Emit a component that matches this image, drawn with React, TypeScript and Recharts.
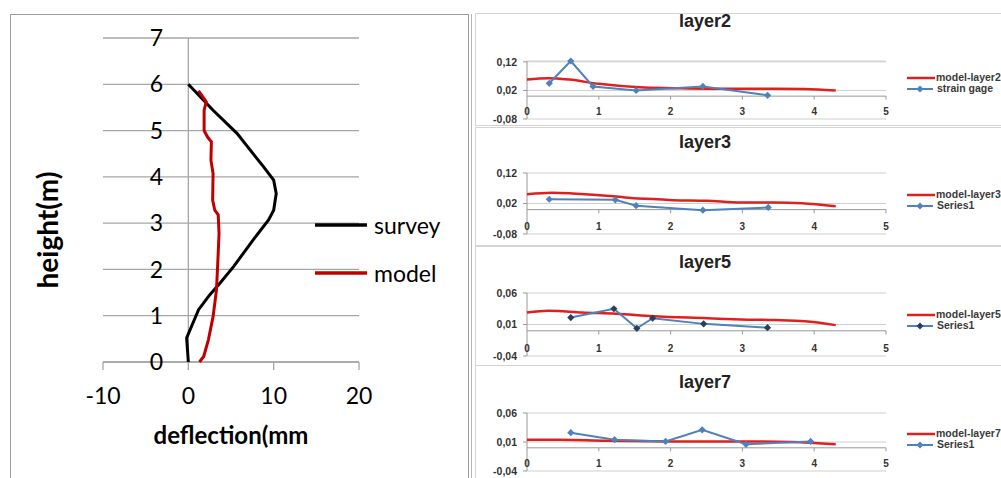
import React from 'react';
import { ScatterChart, Scatter, XAxis, YAxis, CartesianGrid, ReferenceLine, Legend } from 'recharts';

// ---------- Left chart data: deflection profile ----------
const surveyDeflection = [0, -0.2, 1.2, 2.5, 3.7, 5.3, 7.6, 9.4, 10.0, 10.3, 10.0, 8.8, 5.7, 2.9, 0];
const surveyHeight = [0, 0.52, 1.13, 1.45, 1.7, 2.06, 2.64, 3.07, 3.28, 3.64, 3.93, 4.22, 4.94, 5.44, 6.0];
const modelDeflection = [1.3, 1.8, 2.35, 2.9, 3.3, 3.5, 3.6, 3.5, 3.1, 2.85, 2.9, 2.65, 2.7, 2.25, 1.85, 1.85, 2.1, 1.2];
const modelHeight = [0, 0.12, 0.48, 0.98, 1.56, 2.35, 2.78, 3.18, 3.28, 3.5, 4.07, 4.36, 4.76, 4.86, 5.0, 5.44, 5.62, 5.86];
const heightTicks = [0, 1, 2, 3, 4, 5, 6, 7];
const deflectionTicks = [-10, 0, 10, 20];
const profileSeriesNames = ['survey', 'model'];

// ---------- Right charts data: layers ----------
const layerTitles = ['layer2', 'layer3', 'layer5', 'layer7'];
const modelSeriesNames = ['model-layer2', 'model-layer3', 'model-layer5', 'model-layer7'];
const gaugeSeriesNames = ['strain gage', 'Series1', 'Series1', 'Series1'];
const layerXTicks = [0, 1, 2, 3, 4, 5];
const layerYTicksWide = [-0.08, 0.02, 0.12];
const layerYTicksNarrow = [-0.04, 0.01, 0.06];

const layer2ModelX = [0, 0.3, 0.59, 1.0, 1.57, 2.04, 2.5, 2.98, 3.45, 3.87, 4.3];
const layer2ModelY = [0.058, 0.063, 0.058, 0.043, 0.031, 0.028, 0.026, 0.026, 0.026, 0.025, 0.02];
const layer2GaugeX = [0.31, 0.61, 0.92, 1.52, 2.45, 3.35];
const layer2GaugeY = [0.045, 0.123, 0.034, 0.02, 0.034, 0.003];

const layer3ModelX = [0, 0.35, 0.63, 1.2, 1.48, 1.76, 2.04, 2.5, 2.98, 3.45, 3.83, 4.3];
const layer3ModelY = [0.05, 0.055, 0.053, 0.044, 0.037, 0.035, 0.031, 0.029, 0.023, 0.023, 0.021, 0.011];
const layer3GaugeX = [0.31, 1.23, 1.52, 2.45, 3.36];
const layer3GaugeY = [0.034, 0.032, 0.013, -0.002, 0.007];

const layer5ModelX = [0, 0.3, 0.77, 1.24, 1.76, 2.51, 2.98, 3.45, 3.87, 4.3];
const layer5ModelY = [0.029, 0.032, 0.029, 0.027, 0.023, 0.02, 0.018, 0.017, 0.015, 0.009];
const layer5GaugeX = [0.61, 1.21, 1.53, 1.75, 2.46, 3.35];
const layer5GaugeY = [0.021, 0.035, 0.004, 0.02, 0.011, 0.005];

const layer7ModelX = [0, 0.45, 1.1, 2.04, 2.98, 3.69, 4.3];
const layer7ModelY = [0.014, 0.014, 0.012, 0.011, 0.011, 0.01, 0.006];
const layer7GaugeX = [0.61, 1.22, 1.93, 2.44, 3.05, 3.95];
const layer7GaugeY = [0.026, 0.014, 0.011, 0.031, 0.006, 0.011];

const zip = (xs: number[], ys: number[]) => xs.map((x, i) => ({ x, y: ys[i] }));

const RED = '#e0201e';
const BLUE = '#4f81bd';
const GRID = '#a6a6a6';
const LEFT_FONT = 'Lato, "Open Sans", sans-serif';
const SMALL_FONT = '"Liberation Sans", Arial, sans-serif';

const NoShape = () => <g />;

const Diamond = (color: string) => (props: any) => {
  const { cx, cy } = props;
  if (cx == null || cy == null) return <g />;
  const r = 3.6;
  return <path d={`M${cx},${cy - r}L${cx + r},${cy}L${cx},${cy + r}L${cx - r},${cy}Z`} fill={color} />;
};

function ProfileLegend() {
  const items = [
    { name: profileSeriesNames[0], color: '#000' },
    { name: profileSeriesNames[1], color: '#c00000' },
  ];
  return (
    <div style={{ fontFamily: LEFT_FONT, fontSize: 23, color: '#000' }}>
      {items.map((it) => (
        <div key={it.name} style={{ display: 'flex', alignItems: 'center', height: 48 }}>
          <svg width={54} height={10} style={{ marginRight: 6 }}>
            <line x1={1} y1={5} x2={53} y2={5} stroke={it.color} strokeWidth={3.5} />
          </svg>
          <span>{it.name}</span>
        </div>
      ))}
    </div>
  );
}

function ProfileChart() {
  const survey = zip(surveyDeflection, surveyHeight);
  const model = zip(modelDeflection, modelHeight);
  const yAxisW = 40;
  return (
    <div style={{ position: 'absolute', left: 10, top: 14, width: 457, height: 470, border: '1px solid #9c9c9c', borderBottom: 'none', background: '#fff' }}>
      <ScatterChart width={457} height={470} margin={{ top: 23, right: 109, bottom: 73, left: 92 - yAxisW }}>
        <CartesianGrid vertical={false} stroke={GRID} strokeWidth={1.3} />
        <XAxis
          type="number"
          dataKey="x"
          domain={[-10, 20]}
          ticks={deflectionTicks}
          interval={0}
          stroke={GRID}
          strokeWidth={1.3}
          tickSize={8}
          tickMargin={18}
          height={50}
          tick={{ fill: '#000', fontSize: 23, fontFamily: LEFT_FONT }}
          label={{ value: 'deflection(mm', position: 'bottom', offset: 15, fill: '#000', fontSize: 24, fontWeight: 'bold', fontFamily: LEFT_FONT }}
        />
        <YAxis
          type="number"
          dataKey="y"
          domain={[0, 7]}
          ticks={heightTicks}
          interval={0}
          width={yAxisW}
          axisLine={false}
          tickLine={false}
          tickSize={0}
          tickMargin={0}
          tick={{ fill: '#000', fontSize: 23, fontFamily: LEFT_FONT, dx: 60 }}
        />
        <ReferenceLine x={0} stroke={GRID} strokeWidth={1.3} />
        <Scatter name={profileSeriesNames[0]} data={survey} line={{ stroke: '#000', strokeWidth: 3 }} lineType="joint" shape={NoShape} fill="#000" isAnimationActive={false} />
        <Scatter name={profileSeriesNames[1]} data={model} line={{ stroke: '#c00000', strokeWidth: 3 }} lineType="joint" shape={NoShape} fill="#c00000" isAnimationActive={false} />
        <Legend
          layout="vertical"
          align="center"
          verticalAlign="middle"
          content={() => <ProfileLegend />}
          wrapperStyle={{ left: 303, top: 186, width: 150, height: 100 }}
        />
      </ScatterChart>
      <div style={{ position: 'absolute', left: 36, top: 215, transform: 'translate(-50%, -50%) rotate(-90deg)', fontFamily: LEFT_FONT, fontWeight: 'bold', fontSize: 28, whiteSpace: 'nowrap', lineHeight: '30px' }}>
        height(m)
      </div>
    </div>
  );
}

type PanelLayout = { top: number; height: number; plotTop: number; plotBottom: number; titleTop: number; legendTop: number };

const panelLayouts: PanelLayout[] = [
  { top: 13, height: 111, plotTop: 47, plotBottom: 105, titleTop: -2, legendTop: 58 },
  { top: 127, height: 117, plotTop: 45, plotBottom: 106, titleTop: 5, legendTop: 61 },
  { top: 246, height: 118, plotTop: 46, plotBottom: 109, titleTop: 6, legendTop: 62 },
  { top: 365, height: 120, plotTop: 47, plotBottom: 105, titleTop: 7, legendTop: 62 },
];

function LayerLegend({ modelName, gaugeName, markerColor }: { modelName: string; gaugeName: string; markerColor: string }) {
  return (
    <div style={{ fontFamily: SMALL_FONT, fontSize: 10.5, fontWeight: 'bold', color: '#3a3a3a', lineHeight: '11px' }}>
      <div style={{ display: 'flex', alignItems: 'center', height: 11, whiteSpace: 'nowrap' }}>
        <svg width={28} height={8} style={{ marginRight: 1 }}>
          <line x1={0} y1={4} x2={28} y2={4} stroke={RED} strokeWidth={2.5} />
        </svg>
        <span>{modelName}</span>
      </div>
      <div style={{ display: 'flex', alignItems: 'center', height: 11, whiteSpace: 'nowrap' }}>
        <svg width={28} height={8} style={{ marginRight: 2 }}>
          <line x1={0} y1={4} x2={26} y2={4} stroke={BLUE} strokeWidth={2} />
          <path d="M13,0.5L16.5,4L13,7.5L9.5,4Z" fill={markerColor} />
        </svg>
        <span>{gaugeName}</span>
      </div>
    </div>
  );
}

function LayerPanel({ idx, model, gauge, yTicks, markerColor }: { idx: number; model: { x: number; y: number }[]; gauge: { x: number; y: number }[]; yTicks: number[]; markerColor: string }) {
  const L = panelLayouts[idx];
  const W = 540;
  const yAxisW = 40;
  const plotLeft = 51;
  const plotRight = 410;
  const xAxisH = 1;
  const fmt = (v: number) => v.toFixed(2).replace('.', ',');
  const yMin = yTicks[0];
  const yMax = yTicks[yTicks.length - 1];
  const tickLen = (yMax - yMin) * 0.06;
  return (
    <div style={{ position: 'absolute', left: 475, top: L.top, width: W, height: L.height, border: '1px solid #d4d4d4', background: '#fff' }}>
      <div style={{ position: 'absolute', left: 0, width: 2 * 229, top: L.titleTop, textAlign: 'center', fontFamily: SMALL_FONT, fontWeight: 'bold', fontSize: 18, lineHeight: '18px', color: '#222' }}>
        {layerTitles[idx]}
      </div>
      <ScatterChart width={W} height={L.height} margin={{ top: L.plotTop, right: W - plotRight, bottom: L.height - L.plotBottom - xAxisH, left: plotLeft - yAxisW }}>
        <CartesianGrid vertical={false} stroke="#cfcfcf" />
        <XAxis
          type="number"
          dataKey="x"
          domain={[0, 5]}
          ticks={layerXTicks}
          interval={0}
          height={xAxisH}
          axisLine={false}
          tickLine={false}
          tickSize={0}
          tickMargin={0}
          tick={{ fill: '#333', fontSize: 10, fontWeight: 'bold', fontFamily: SMALL_FONT, dy: -11 }}
        />
        <YAxis
          type="number"
          dataKey="y"
          domain={[yMin, yMax]}
          ticks={yTicks}
          interval={0}
          width={yAxisW}
          stroke="#999"
          tickSize={4}
          tickMargin={6}
          tickFormatter={fmt}
          tick={{ fill: '#333', fontSize: 10.5, fontWeight: 'bold', fontFamily: SMALL_FONT }}
        />
        <ReferenceLine y={0} stroke="#999" />
        {layerXTicks.slice(1).map((t) => (
          <ReferenceLine key={t} segment={[{ x: t, y: 0 }, { x: t, y: -tickLen }]} stroke="#999" />
        ))}
        <Scatter name={modelSeriesNames[idx]} data={model} line={{ stroke: RED, strokeWidth: 2.5 }} lineType="joint" lineJointType="monotoneX" shape={NoShape} fill={RED} isAnimationActive={false} />
        <Scatter name={gaugeSeriesNames[idx]} data={gauge} line={{ stroke: BLUE, strokeWidth: 2 }} lineType="joint" shape={Diamond(markerColor)} fill={markerColor} isAnimationActive={false} />
        <Legend
          layout="vertical"
          align="center"
          verticalAlign="middle"
          content={() => <LayerLegend modelName={modelSeriesNames[idx]} gaugeName={gaugeSeriesNames[idx]} markerColor={markerColor} />}
          wrapperStyle={{ left: 431, top: L.legendTop, width: 120, height: 24 }}
        />
      </ScatterChart>
    </div>
  );
}

export default function App() {
  return (
    <div style={{ position: 'absolute', left: 0, top: 0, width: 1001, height: 478, overflow: 'hidden', background: '#fff' }}>
      <ProfileChart />
      <div style={{ position: 'absolute', left: 471, top: 14, width: 1, height: 470, background: '#b5b5b5' }} />
      <LayerPanel idx={0} model={zip(layer2ModelX, layer2ModelY)} gauge={zip(layer2GaugeX, layer2GaugeY)} yTicks={layerYTicksWide} markerColor={BLUE} />
      <LayerPanel idx={1} model={zip(layer3ModelX, layer3ModelY)} gauge={zip(layer3GaugeX, layer3GaugeY)} yTicks={layerYTicksWide} markerColor={BLUE} />
      <LayerPanel idx={2} model={zip(layer5ModelX, layer5ModelY)} gauge={zip(layer5GaugeX, layer5GaugeY)} yTicks={layerYTicksNarrow} markerColor="#2a3f5f" />
      <LayerPanel idx={3} model={zip(layer7ModelX, layer7ModelY)} gauge={zip(layer7GaugeX, layer7GaugeY)} yTicks={layerYTicksNarrow} markerColor={BLUE} />
    </div>
  );
}
